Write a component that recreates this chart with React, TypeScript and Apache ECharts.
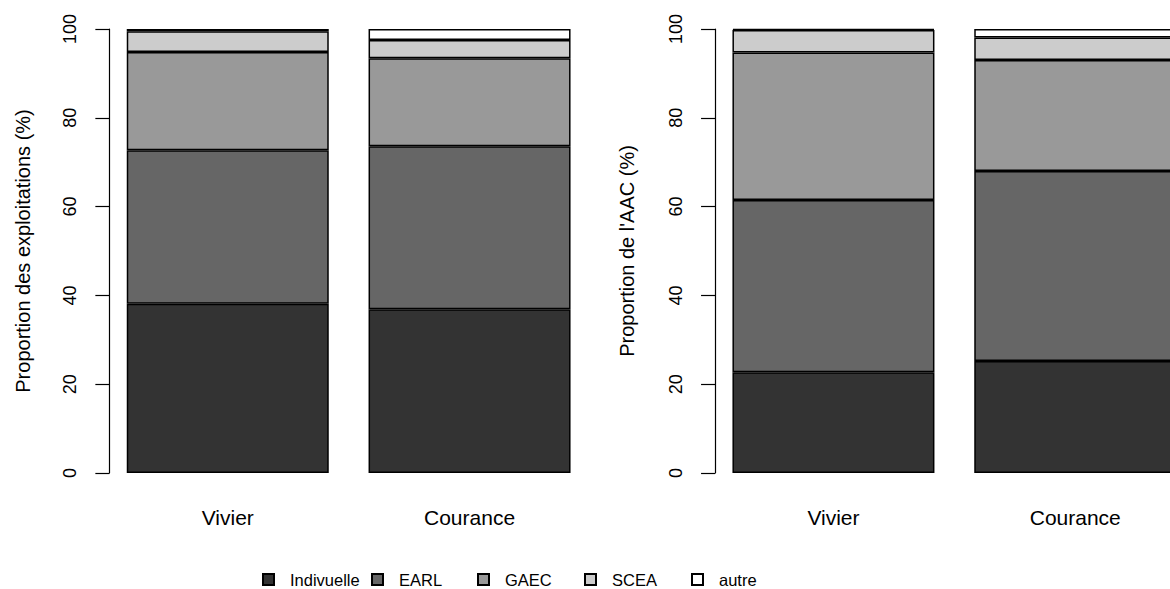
import React, { useEffect, useRef } from "react";
import * as echarts from "echarts";

const categories = ["Vivier", "Courance"];
const groupNames = ["Indivuelle", "EARL", "GAEC", "SCEA", "autre"];
const groupColors = ["#333333", "#666666", "#999999", "#cccccc", "#ffffff"];

// Proportion des exploitations (%)
const explIndiv = [38.1, 36.9];
const explEARL = [34.6, 36.7];
const explGAEC = [22.1, 19.8];
const explSCEA = [4.7, 4.1];
const explAutre = [0.5, 2.5];

// Proportion de l'AAC (%)
const aacIndiv = [22.7, 25.2];
const aacEARL = [38.8, 42.8];
const aacGAEC = [33.2, 25.0];
const aacSCEA = [5.1, 5.1];
const aacAutre = [0.2, 1.9];

const yTicks = [0, 20, 40, 60, 80, 100];

const FONT = "Liberation Sans, Arial, Helvetica, sans-serif";

export default function App() {
  const ref = useRef<HTMLDivElement>(null);
  useEffect(() => {
    document.body.style.margin = "0";
    document.body.style.overflow = "hidden";
    if (!ref.current) return;
    const chart = echarts.init(ref.current, null, { renderer: "svg" });
    const panels = [
      [explIndiv, explEARL, explGAEC, explSCEA, explAutre],
      [aacIndiv, aacEARL, aacGAEC, aacSCEA, aacAutre],
    ];
    const titles = ["Proportion des exploitations (%)", "Proportion de l'AAC (%)"];
    const gridLefts = [106.85, 712.55];
    const bandW = 483.6;

    const series: any[] = [];
    panels.forEach((vals, p) => {
      vals.forEach((arr, i) => {
        series.push({
          type: "bar",
          name: groupNames[i],
          xAxisIndex: p,
          yAxisIndex: p,
          stack: "s" + p,
          barWidth: 202,
          data: arr,
          itemStyle: {
            color: groupColors[i],
            borderColor: "#000",
            borderWidth: 1.5,
          },
          emphasis: { disabled: true },
        });
      });
    });

    const legendLefts = [262, 371, 477, 584, 691];
    const legends = groupNames.map((n, i) => ({
      data: [n],
      left: legendLefts[i],
      top: 571,
      icon: "rect",
      itemWidth: 11,
      itemHeight: 11,
      padding: 0,
      textStyle: {
        fontFamily: FONT,
        fontSize: 16.5,
        color: "#000",
        padding: [0, 0, 0, 11],
      },
      selectedMode: false,
    }));

    chart.setOption({
      animation: false,
      textStyle: { fontFamily: FONT },
      legend: legends,
      grid: gridLefts.map((l) => ({
        left: l,
        width: bandW,
        top: 29,
        height: 444,
        containLabel: false,
      })),
      xAxis: gridLefts.map((_, p) => ({
        type: "category",
        gridIndex: p,
        data: categories,
        axisLine: { show: false },
        axisTick: { show: false },
        axisLabel: {
          fontFamily: FONT,
          fontSize: 21,
          color: "#000",
          margin: 34,
        },
      })),
      yAxis: gridLefts.map((_, p) => ({
        type: "value",
        gridIndex: p,
        min: yTicks[0],
        max: yTicks[yTicks.length - 1],
        interval: 20,
        offset: -2.5,
        name: titles[p],
        nameLocation: "middle",
        nameRotate: 90,
        nameGap: p === 0 ? 76 : 78,
        nameTextStyle: { fontFamily: FONT, fontSize: 20, color: "#000" },
        axisLine: { show: true, lineStyle: { color: "#000", width: 1.2 } },
        axisTick: { show: true, length: 14, lineStyle: { color: "#000", width: 1.2 } },
        splitLine: { show: false },
        axisLabel: {
          rotate: 90,
          fontFamily: FONT,
          fontSize: 18,
          color: "#000",
          margin: 30,
        },
      })),
      series,
    });
    return () => chart.dispose();
  }, []);
  return <div ref={ref} style={{ width: 1200, height: 589 }} />;
}
